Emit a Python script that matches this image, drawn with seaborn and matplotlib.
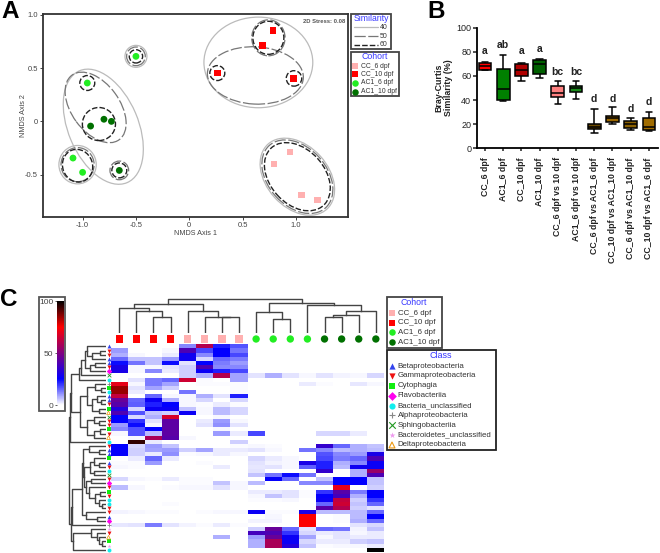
import numpy as np
import pandas as pd
import seaborn as sns
import matplotlib.pyplot as plt
from matplotlib.cm import ScalarMappable
from matplotlib.colors import LinearSegmentedColormap, Normalize
from matplotlib.patches import Ellipse, Rectangle

# panel A - NMDS points
nmds_cohort = ["CC_6 dpf"] * 4 + ["CC_10 dpf"] * 4 + ["AC1_6 dpf"] * 4 + ["AC1_10 dpf"] * 4
nmds_x = [0.944, 0.794, 1.05, 1.203, 0.784, 0.688, 0.263, 0.98,
          -0.5, -0.956, -1.09, -1.0, -0.80, -0.73, -0.925, -0.656]
nmds_y = [-0.288, -0.4, -0.69, -0.738, 0.853, 0.713, 0.453, 0.403,
          0.61, 0.36, -0.344, -0.478, 0.02, 0.0, -0.044, -0.46]

# similarity contours: centre x, centre y, width, height, angle
contours_40 = [(0.647, 0.553, 1.02, 0.85, 0), (-0.806, -0.05, 1.14, 0.656, -67),
               (-0.5, 0.61, 0.206, 0.206, 0), (-1.047, -0.406, 0.35, 0.36, 0),
               (1.0125, -0.519, 0.822, 0.578, -48)]
contours_50 = [(0.619, 0.431, 0.9, 0.5375, -3), (-0.878, 0.131, 0.75, 0.45, -54),
               (-0.5, 0.61, 0.175, 0.175, 0), (-1.047, -0.406, 0.31, 0.32, 0),
               (0.741, 0.784, 0.3125, 0.3375, 0), (-0.656, -0.46, 0.175, 0.175, 0),
               (1.0125, -0.519, 0.7875, 0.547, -48)]
contours_60 = [(0.741, 0.784, 0.29, 0.31, 0), (-0.5, 0.61, 0.125, 0.125, 0),
               (-0.956, 0.36, 0.14, 0.14, 0), (0.2625, 0.453, 0.14, 0.14, 0),
               (0.981, 0.403, 0.145, 0.145, 0), (-0.847, -0.025, 0.31, 0.31, 0),
               (-0.656, -0.46, 0.14, 0.14, 0), (-1.047, -0.416, 0.28, 0.31, 20),
               (1.0125, -0.519, 0.728, 0.51, -48)]

# panel B - five number summaries
box_labels = ["CC_6 dpf", "AC1_6 dpf", "CC_10 dpf", "AC1_10 dpf", "CC_6 dpf vs 10 dpf",
              "AC1_6 dpf vs 10 dpf", "CC_6 dpf vs AC1_6 dpf", "CC_10 dpf vs AC1_10 dpf",
              "CC_6 dpf vs AC1_10 dpf", "CC_10 dpf vs AC1_6 dpf"]
box_min = [65, 39, 56, 58, 37, 41, 12.5, 20, 15, 14.5]
box_q1 = [65, 40, 60, 62, 42.5, 47, 16, 21.5, 16.5, 15.5]
box_med = [68, 49, 65, 70, 45.5, 50, 17.5, 25, 20, 17.5]
box_q3 = [71, 66, 70, 73, 52, 52, 20, 27, 23, 25]
box_max = [71.5, 77, 70.5, 74, 56, 56, 33, 34, 25, 30]
box_colors = ["#ff0000", "#008000", "#b00000", "#006000", "#ff8080",
              "#1a8a1a", "#6b4a00", "#996600", "#8a6000", "#a06c00"]
sig_letters = ["a", "ab", "a", "a", "bc", "bc", "d", "d", "d", "d"]
sig_heights = [80.7, 85.6, 80.7, 82, 63.5, 63.5, 41, 41, 32.3, 38.4]

# panel C - relative abundance, one row per OTU
heat_rows = [
    [0, 0, 0, 0, 12, 60, 22, 17, 0, 0, 0, 0, 0, 0, 0, 0],
    [10, 0, 0, 1, 40, 18, 25, 14, 0, 0, 0, 0, 0, 0, 0, 0],
    [8, 1, 0, 2, 28, 12, 25, 18, 0, 0, 0, 0, 0, 0, 0, 0],
    [15, 6, 6, 10, 28, 4, 15, 13, 0, 0, 0, 0, 0, 0, 0, 0],
    [24, 14, 6, 24, 3, 25, 13, 10, 0, 0, 0, 0, 0, 0, 0, 0],
    [30, 1, 1, 3, 5, 40, 12, 12, 0, 0, 0, 0, 0, 0, 0, 0],
    [30, 1, 12, 2, 5, 27, 22, 18, 0, 0, 0, 0, 0, 0, 0, 0],
    [0, 0, 0, 0, 5, 8, 60, 9, 3, 8, 3, 1, 3, 1.5, 1, 4],
    [0, 3, 13, 15, 65, 0.5, 0, 9, 0, 0, 0, 0, 0, 0, 0, 0],
    [70, 1, 13, 9, 0, 0.5, 0.5, 0.5, 0, 0, 0, 2, 0.5, 0, 2.5, 1],
    [85, 3, 9, 5, 0, 0, 0, 0.5, 0, 0, 0, 0, 0, 0, 0, 0],
    [85, 2, 0, 0, 14, 0, 0, 0.5, 0, 0, 0, 0, 0, 0, 0, 0],
    [63, 0, 15, 1, 1, 8, 3, 22, 0, 0, 0, 0, 0, 0, 0, 0],
    [45, 15, 27, 8, 1, 4, 0, 4, 0, 0, 0, 0, 0, 0, 0, 0],
    [42, 16, 22, 25, 1, 0.5, 2, 0.5, 0, 0, 0, 0, 0, 0, 0, 0],
    [32, 4, 27, 27, 6, 1, 7, 4, 0, 0, 0, 0, 0, 0, 0, 0],
    [40, 17, 6, 5, 27, 1, 7, 4, 0, 0, 0, 0, 0, 0, 0, 0],
    [25, 4, 8, 67, 0, 0, 1, 0, 0, 0, 0, 0, 0, 0, 0, 0],
    [25, 20, 3, 43, 0, 2, 10, 1, 0, 0, 0, 0, 0, 0, 0, 0],
    [10, 24, 1, 43, 0, 3, 11, 3, 0, 0, 0, 0, 0, 0, 0, 0],
    [12, 17, 25, 43, 0, 0, 1, 0, 0, 0, 0, 0, 0, 0, 0, 0],
    [1, 17, 7, 43, 0, 0, 10, 2, 18, 0, 0, 0, 4, 4, 2, 0],
    [0, 1, 58, 42, 1, 0, 0, 0, 0, 0, 0, 0, 0, 0, 0, 0],
    [0, 95, 2, 0, 0, 0, 0, 5, 0, 0, 0, 0, 0, 0, 0, 0],
    [25, 4, 10, 6, 0, 0, 0, 0.5, 1, 0.5, 0, 0, 35, 15, 8, 6],
    [26, 5, 9, 10, 5, 9, 2, 2, 3, 1, 0, 14, 12, 7, 8, 7],
    [26, 5, 2, 11, 0.5, 1, 2, 1, 0, 0, 0, 0, 17, 12, 10, 30],
    [0, 2, 15, 2, 0, 0, 0, 0, 4, 2, 1, 0, 18, 13, 15, 40],
    [0.5, 0.5, 10, 0, 0, 0.5, 0, 0, 3, 1.5, 1, 30, 22, 8, 12, 27],
    [1, 0.5, 0, 0, 0, 0, 2, 0, 2.5, 3, 1, 16, 22, 7, 28, 27],
    [0, 0, 0, 0, 0, 0, 0, 0, 3, 0, 0, 0, 35, 0, 8, 55],
    [0, 0, 0, 0, 0, 0, 0, 0, 6, 14, 24, 14, 0, 0, 8, 40],
    [4, 1, 0.5, 2, 0.5, 0.5, 0, 0, 0, 26, 15, 0, 6, 25, 25, 6],
    [0, 0, 0, 0, 0.5, 0.5, 6, 1, 7, 0, 0, 12, 12, 25, 25, 6],
    [7, 1, 0, 0.5, 1, 1, 3, 1, 0, 0, 0, 0, 0, 70, 0, 5],
    [0, 0, 0, 0, 0, 0, 0, 0, 2, 2, 3, 0.5, 20, 42, 13, 26],
    [0, 0, 0, 0, 0, 0, 0, 0, 1, 6, 3, 0.5, 26, 38, 8, 25],
    [0, 0, 0, 0, 0, 0, 0, 0, 0.5, 0.5, 1, 0, 27, 63, 5, 20],
    [0, 0, 0, 0.5, 0, 0, 0, 0, 0, 0, 0, 0, 15, 65, 6, 15],
    [0, 0, 0, 0, 0, 0, 0, 0, 0, 0, 0, 0, 42, 60, 5, 3],
    [1.5, 1, 0.5, 0.5, 0, 0.5, 1, 1, 27, 0.5, 0.5, 30, 7, 7, 7, 15],
    [0, 0, 0, 0, 0, 0, 0, 0, 0, 1, 0, 75, 0, 0.5, 7, 25],
    [0, 0, 0, 0, 0, 0, 0, 0, 1.5, 1.5, 0, 75, 0, 0.5, 8, 15],
    [2.5, 3, 13, 3, 1.5, 0.5, 2, 0.5, 0, 0, 0, 75, 0, 0, 3, 4],
    [0, 0, 0, 0, 0, 0, 0, 0, 5, 45, 15, 3, 15, 14, 1.5, 6],
    [0, 0, 0, 0, 0, 0, 0, 0, 38, 40, 20, 4, 2, 3, 1, 2],
    [0, 0, 0, 0, 0, 0, 8, 0, 10, 45, 27, 9, 1, 3, 2, 2],
    [0, 0, 0, 0, 0, 0, 0, 0, 8, 58, 27, 4, 2, 2, 5, 6],
    [0, 0, 0, 0, 0, 0, 0, 0, 8, 58, 32, 6, 0.5, 1, 1, 2],
    [0, 0, 0, 0, 0, 0, 0.3, 0, 0, 0, 0, 0, 0, 0, 0, 100],
]
column_cohorts = ["CC_10 dpf"] * 4 + ["CC_6 dpf"] * 4 + ["AC1_6 dpf"] * 4 + ["AC1_10 dpf"] * 4
row_classes = list("BGGBBGFSUACUBBGCDSGGCGD" "UGBBCBGUSGFGCGUUGGBFAKGDCKU")

class_names = {"B": "Betaproteobacteria", "G": "Gammaproteobacteria", "C": "Cytophagia",
               "F": "Flavobacteriia", "U": "Bacteria_unclassified", "A": "Alphaproteobacteria",
               "S": "Sphingobacteriia", "K": "Bacteroidetes_unclassified", "D": "Deltaproteobacteria"}
class_colors = {"B": "#3344ee", "G": "#ee1111", "C": "#11ee11", "F": "#ff00ee", "U": "#11eeee",
                "A": "#888888", "S": "#229922", "K": "#ee99ee", "D": "#ee9911"}
class_markers = {"B": "^", "G": "v", "C": "s", "F": "D", "U": "o", "A": "+", "S": "x", "K": "*", "D": "^"}

cohort_names = ["CC_6 dpf", "CC_10 dpf", "AC1_6 dpf", "AC1_10 dpf"]
cohort_colors = {"CC_6 dpf": "#ffb0b0", "CC_10 dpf": "#ff0000", "AC1_6 dpf": "#22ee22", "AC1_10 dpf": "#007000"}
cohort_markers = {"CC_6 dpf": "s", "CC_10 dpf": "s", "AC1_6 dpf": "o", "AC1_10 dpf": "o"}

# dendrograms as (height, left, right), leaves are row/column numbers
top_a = (27, (25, (21, (19, 0, (14, (6, 1, 2), 3)), (16, (11, 4, 5), 6)), 7), 8)
top_b = (26, (19, (11, 9, (5, 10, 11)), (14, (9, 12, (5, 13, 14)), (7, 15, 16))),
         (19, (12, 17, (7, 18, 19)), (12, (6, 20, 21), 22)))
low_a = (24, (23, (17, 24, (7, 25, 26)),
              (22, (16, (12, 27, (7, 28, 29)), (12, 30, 31)),
               (20, (15, 32, 33), (17, 34, (11, (6, 35, 36), (7, 37, (4, 38, 39))))))),
         (20, 40, (9, 41, 42)))
low_b = (33, (15, 44, (9, 45, (7, 46, (4, 47, 48)))), 49)
row_tree = (37, (36, (35, top_a, top_b), 23), (35, (34, low_a, 43), low_b))
col_tree = (34.3,
            (29.3, (25.7, 0, (22.3, 1, (16.7, 2, 3))), (22.3, 4, (16.7, 5, (16, 6, 7)))),
            (30, (21.7, 8, (14, 9, 10)), (28.3, 11, (22.3, (18.3, (16, 12, 13), 14), 15))))

W, H = 660, 553
sns.set_theme(style="white")
plt.rcParams["font.family"] = ["Liberation Sans", "DejaVu Sans"]
fig = plt.figure(figsize=(W / 100, H / 100), dpi=100)


def px_axes(x0, y0, x1, y1):
    return fig.add_axes([x0 / W, 1 - y1 / H, (x1 - x0) / W, (y1 - y0) / H])


def draw_tree(ax, node, horizontal=False):
    # returns (leaf position, height) of the node after drawing it
    if not isinstance(node, tuple):
        return node + 0.5, 0
    h, left, right = node
    pa, ha = draw_tree(ax, left, horizontal)
    pb, hb = draw_tree(ax, right, horizontal)
    pos, heights = [pa, pa, pb, pb], [ha, h, h, hb]
    if horizontal:
        ax.plot(heights, pos, color="#444444", lw=1.0, solid_capstyle="projecting")
    else:
        ax.plot(pos, heights, color="#444444", lw=1.0, solid_capstyle="projecting")
    return (pa + pb) / 2, h


# ---- A: NMDS
ax_a = px_axes(43, 13.5, 348, 217)
df_nmds = pd.DataFrame({"x": nmds_x, "y": nmds_y, "cohort": nmds_cohort})
contour_styles = [(contours_40, "-", "#bbbbbb", 0.9),
                  (contours_50, (0, (9, 2)), "#777777", 0.9),
                  (contours_60, (0, (4, 1.5)), "#222222", 1.0)]
for shapes, ls, col, lw in contour_styles:
    for cx, cy, w, h, ang in shapes:
        ax_a.add_patch(Ellipse((cx, cy), w, h, angle=ang, fill=False, ec=col, ls=ls, lw=lw))
sns.scatterplot(data=df_nmds, x="x", y="y", hue="cohort", style="cohort", palette=cohort_colors,
                markers=cohort_markers, s=24, linewidth=0, legend=False, ax=ax_a, zorder=3)
ax_a.set_xlim(-1.371, 1.487)
ax_a.set_ylim(-0.897, 1.012)
ax_a.set_xticks([-1, -0.5, 0, 0.5, 1], ["-1.0", "-0.5", "0", "0.5", "1.0"])
ax_a.set_yticks([-0.5, 0, 0.5, 1], ["-0.5", "0", "0.5", "1.0"])
ax_a.tick_params(labelsize=5.5, length=2, width=0.7, pad=1.5, colors="#444444", bottom=True, left=True)
ax_a.set_xlabel("NMDS Axis 1", fontsize=5.2, color="#444444", labelpad=1)
ax_a.set_ylabel("NMDS Axis 2", fontsize=5.2, color="#444444", labelpad=-1)
for s in ax_a.spines.values():
    s.set_color("#333333")
    s.set_linewidth(1.3)
ax_a.text(0.99, 0.975, "2D Stress: 0.08", transform=ax_a.transAxes, ha="right", va="top",
          fontsize=4.2, fontweight="bold", color="#555555")

# ---- B: boxplots
ax_b = px_axes(476.7, 27.7, 658, 148.3)
df_box = pd.DataFrame({"group": box_labels * 5,
                       "similarity": box_min + box_q1 + box_med + box_q3 + box_max})
sns.boxplot(data=df_box, x="group", y="similarity", hue="group", order=box_labels, hue_order=box_labels,
            palette=box_colors, dodge=False, width=0.7, whis=(0, 100), linecolor="black", linewidth=1.1,
            capwidths=0.36, saturation=1, legend=False, ax=ax_b)
for i, (txt, yv) in enumerate(zip(sig_letters, sig_heights)):
    ax_b.text(i, yv, txt, ha="center", va="center", fontsize=7.5, fontweight="bold", color="#222222")
ax_b.set_xlim(-0.456, 9.5)
ax_b.set_ylim(0, 100)
ax_b.set_yticks([0, 20, 40, 60, 80, 100])
ax_b.set_xlabel("")
ax_b.set_ylabel("Bray-Curtis\nSimilarity (%)", fontsize=6.4, fontweight="bold", color="#222222", labelpad=2)
ax_b.tick_params(axis="y", labelsize=6.5, length=3, width=1.1, pad=1, left=True, colors="#222222")
ax_b.tick_params(axis="x", length=2.5, width=1.1, pad=4, bottom=True, colors="#222222")
ax_b.set_xticks(range(len(box_labels)))
ax_b.set_xticklabels(box_labels, rotation=90, fontsize=6.3, fontweight="bold")
sns.despine(ax=ax_b)
for side in ("left", "bottom"):
    ax_b.spines[side].set_color("black")
    ax_b.spines[side].set_linewidth(1.3)

# ---- C: heatmap
abund_cmap = LinearSegmentedColormap.from_list(
    "abund", [(0, "#ffffff"), (0.25, "#0000ff"), (0.75, "#ff0000"), (1, "#000000")])
ax_h = px_axes(110.7, 344.3, 384.4, 551.8)
sns.heatmap(np.array(heat_rows), cmap=abund_cmap, vmin=0, vmax=100, cbar=False,
            xticklabels=False, yticklabels=False, ax=ax_h)

ax_top = px_axes(110.7, 290, 384.4, 333.3)
draw_tree(ax_top, col_tree)
ax_top.set_xlim(0, 16)
ax_top.set_ylim(0, 43.3)
ax_top.axis("off")

ax_left = px_axes(68, 344.3, 106, 551.8)
draw_tree(ax_left, row_tree, horizontal=True)
ax_left.set_xlim(38, 0)
ax_left.set_ylim(50, 0)
ax_left.axis("off")

# cohort squares/dots over the columns
ax_cm = px_axes(110.7, 334, 384.4, 344)
df_cols = pd.DataFrame({"x": np.arange(16) + 0.5, "y": 0.5, "cohort": column_cohorts})
sns.scatterplot(data=df_cols, x="x", y="y", hue="cohort", style="cohort", palette=cohort_colors,
                markers=cohort_markers, s=28, linewidth=0, legend=False, ax=ax_cm)
ax_cm.set_xlim(0, 16)
ax_cm.set_ylim(0, 1)
ax_cm.axis("off")

# class markers beside the rows
ax_rm = px_axes(106, 344.3, 111, 551.8)
for key, marker in class_markers.items():
    rows = [i + 0.5 for i, c in enumerate(row_classes) if c == key]
    if key == "D":
        ax_rm.scatter([0.5] * len(rows), rows, marker=marker, s=7, facecolors="none",
                      edgecolors=class_colors[key], linewidths=0.5)
    elif marker in "+x":
        ax_rm.scatter([0.5] * len(rows), rows, marker=marker, s=7, color=class_colors[key], linewidths=0.6)
    else:
        ax_rm.scatter([0.5] * len(rows), rows, marker=marker, s=8, color=class_colors[key], linewidths=0)
ax_rm.set_xlim(0, 1)
ax_rm.set_ylim(50, 0)
ax_rm.axis("off")

# colour key
ax_key = px_axes(56.7, 301, 64, 405)
cb = fig.colorbar(ScalarMappable(Normalize(0, 100), abund_cmap), cax=ax_key)
cb.set_ticks([0, 50, 100])
ax_key.yaxis.set_ticks_position("left")
ax_key.tick_params(labelsize=6, length=1.5, width=0.6, pad=1, colors="#444444")
cb.outline.set_visible(False)

# ---- legends, panel letters (pixel overlay)
ov = fig.add_axes([0, 0, 1, 1], facecolor="none")
ov.set_xlim(0, W)
ov.set_ylim(H, 0)
ov.axis("off")


def frame(x0, y0, x1, y1, ec="#444444", lw=1.3):
    ov.add_patch(Rectangle((x0, y0), x1 - x0, y1 - y0, fill=False, ec=ec, lw=lw))


title_blue = "#3838ff"
text_grey = "#333333"

# similarity legend
frame(351, 13.5, 391, 49)
ov.text(371, 18.5, "Similarity", ha="center", va="center", fontsize=6.2, color=title_blue)
for (shapes, ls, col, lw), yp, lab in zip(contour_styles, [27.3, 36, 44.7], ["40", "50", "60"]):
    ov.plot([354, 378], [yp, yp], ls=ls, color=col, lw=lw)
    ov.text(380, yp, lab, va="center", fontsize=5, color=text_grey)


def cohort_legend(x0, y0, x1, y1, tx, ty, mx, lx, ys, fs):
    frame(x0, y0, x1, y1)
    ov.text(tx, ty, "Cohort", ha="center", va="center", fontsize=6.3, color=title_blue)
    for name, yp in zip(cohort_names, ys):
        ov.scatter([mx], [yp], marker=cohort_markers[name], s=22, color=cohort_colors[name], linewidths=0)
        ov.text(lx, yp, name, va="center", fontsize=fs, color=text_grey)


cohort_legend(351, 52, 399, 96, 375, 56.7, 355, 360.7, [66, 74, 83, 91.7], 4.9)
cohort_legend(386.7, 297.3, 442, 347.7, 414, 302.3, 392, 397.7, [313.3, 322.7, 332.3, 342.3], 5.7)

# class legend
frame(386.7, 350.3, 495.7, 450.3, ec="#222222")
ov.text(441, 355.7, "Class", ha="center", va="center", fontsize=6.5, color=title_blue)
for i, key in enumerate("BGCFUASKD"):
    yp = 366 + i * 9.875
    col = class_colors[key]
    if key == "D":
        ov.scatter([392], [yp], marker="^", s=18, facecolors="none", edgecolors=col, linewidths=0.8)
    elif key in "AS":
        ov.scatter([392], [yp], marker=class_markers[key], s=22, color=col, linewidths=0.8)
    else:
        ov.scatter([392], [yp], marker=class_markers[key], s=20, color=col, linewidths=0)
    ov.text(397.7, yp, class_names[key], va="center", fontsize=5.7, color=text_grey)

# box round the colour key
frame(38.7, 296.7, 65.3, 410.7, ec="#555555")

for letter, xp, yp in [("A", 1, 12), ("B", 427, 11), ("C", 0, 299)]:
    ov.text(xp, yp, letter, ha="left", va="center", fontsize=17.5, fontweight="bold", color="black")

fig.savefig("out.png", dpi=100)
